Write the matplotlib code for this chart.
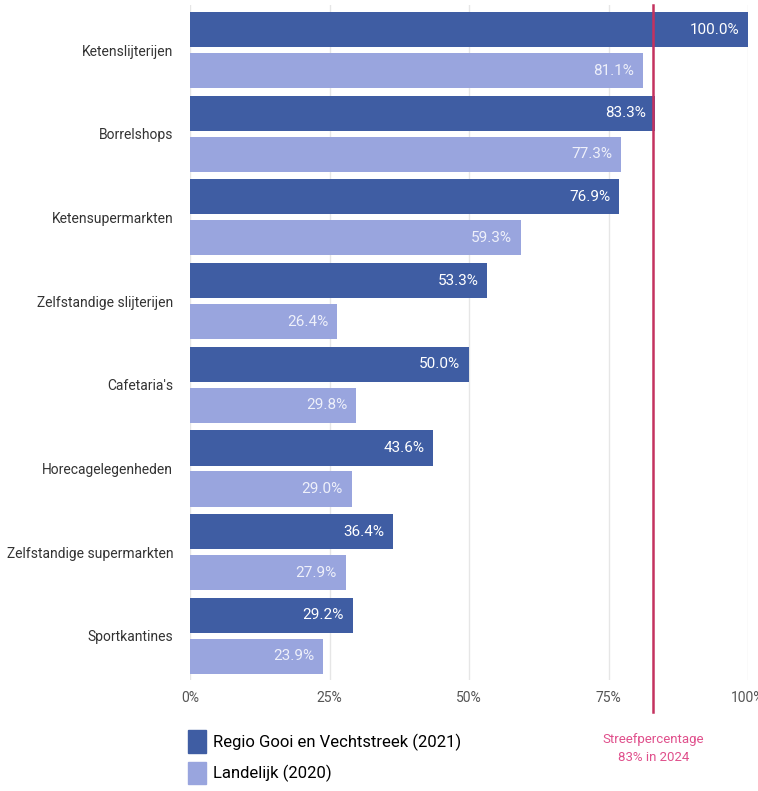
import numpy as np
import matplotlib.pyplot as plt
from matplotlib.patches import Patch

plt.rcParams['font.family'] = ['Roboto', 'DejaVu Sans']

categories = ['Ketenslijterijen', 'Borrelshops', 'Ketensupermarkten',
              'Zelfstandige slijterijen', "Cafetaria's", 'Horecagelegenheden',
              'Zelfstandige supermarkten', 'Sportkantines']
regio = [100.0, 83.3, 76.9, 53.3, 50.0, 43.6, 36.4, 29.2]
landelijk = [81.1, 77.3, 59.3, 26.4, 29.8, 29.0, 27.9, 23.9]
ticks = [0, 25, 50, 75, 100]
target = 83

dark = '#3f5da3'
light = '#99a5de'
W, H = 758, 791

fig = plt.figure(figsize=(W / 100, H / 100), dpi=100)
ax = fig.add_axes([190 / W, 1 - 680 / H, 558 / W, 675 / H])

y = np.arange(len(categories))
h = 0.42
off = 0.245
ax.barh(y - off, regio, height=h, color=dark, zorder=2)
ax.barh(y + off, landelijk, height=h, color=light, zorder=2)

# value labels inside the bar ends
for i in range(len(categories)):
    ax.text(regio[i] - 1.6, y[i] - off, f'{regio[i]:.1f}%', ha='right', va='center',
            color='white', fontsize=11, zorder=3)
    ax.text(landelijk[i] - 1.6, y[i] + off, f'{landelijk[i]:.1f}%', ha='right', va='center',
            color='#eef0fa', fontsize=11, zorder=3)

ax.set_xlim(0, 100)
ax.set_ylim(7.527, -0.538)
ax.set_yticks(y)
ax.set_yticklabels(categories, fontsize=10, color='#333333')
ax.set_xticks(ticks)
ax.set_xticklabels([f'{t}%' for t in ticks], fontsize=10, color='#555555')
ax.tick_params(length=0, axis='y', pad=12)
ax.tick_params(length=0, axis='x', pad=8)
for s in ax.spines.values():
    s.set_visible(False)
ax.grid(axis='x', color='#e6e6e6', linewidth=1, zorder=0)
ax.set_axisbelow(True)

# target line
ax.plot([target, target], [-0.538, 7.91], color='#c4325f', linewidth=1.8,
        clip_on=False, zorder=4)
ax.text(target, 8.34, 'Streefpercentage\n83% in 2024', ha='center', va='center',
        color='#e0508c', fontsize=9.5, linespacing=1.5)

handles = [Patch(color=dark, label='Regio Gooi en Vechtstreek (2021)'),
           Patch(color=light, label='Landelijk (2020)')]
fig.legend(handles=handles, loc='upper left', bbox_to_anchor=(183 / W, 1 - 725 / H),
           frameon=False, fontsize=12, handlelength=1.05, handleheight=1.7,
           handletextpad=0.45, labelspacing=0.55, borderaxespad=0, borderpad=0.3)

fig.savefig('out.png', dpi=100)
